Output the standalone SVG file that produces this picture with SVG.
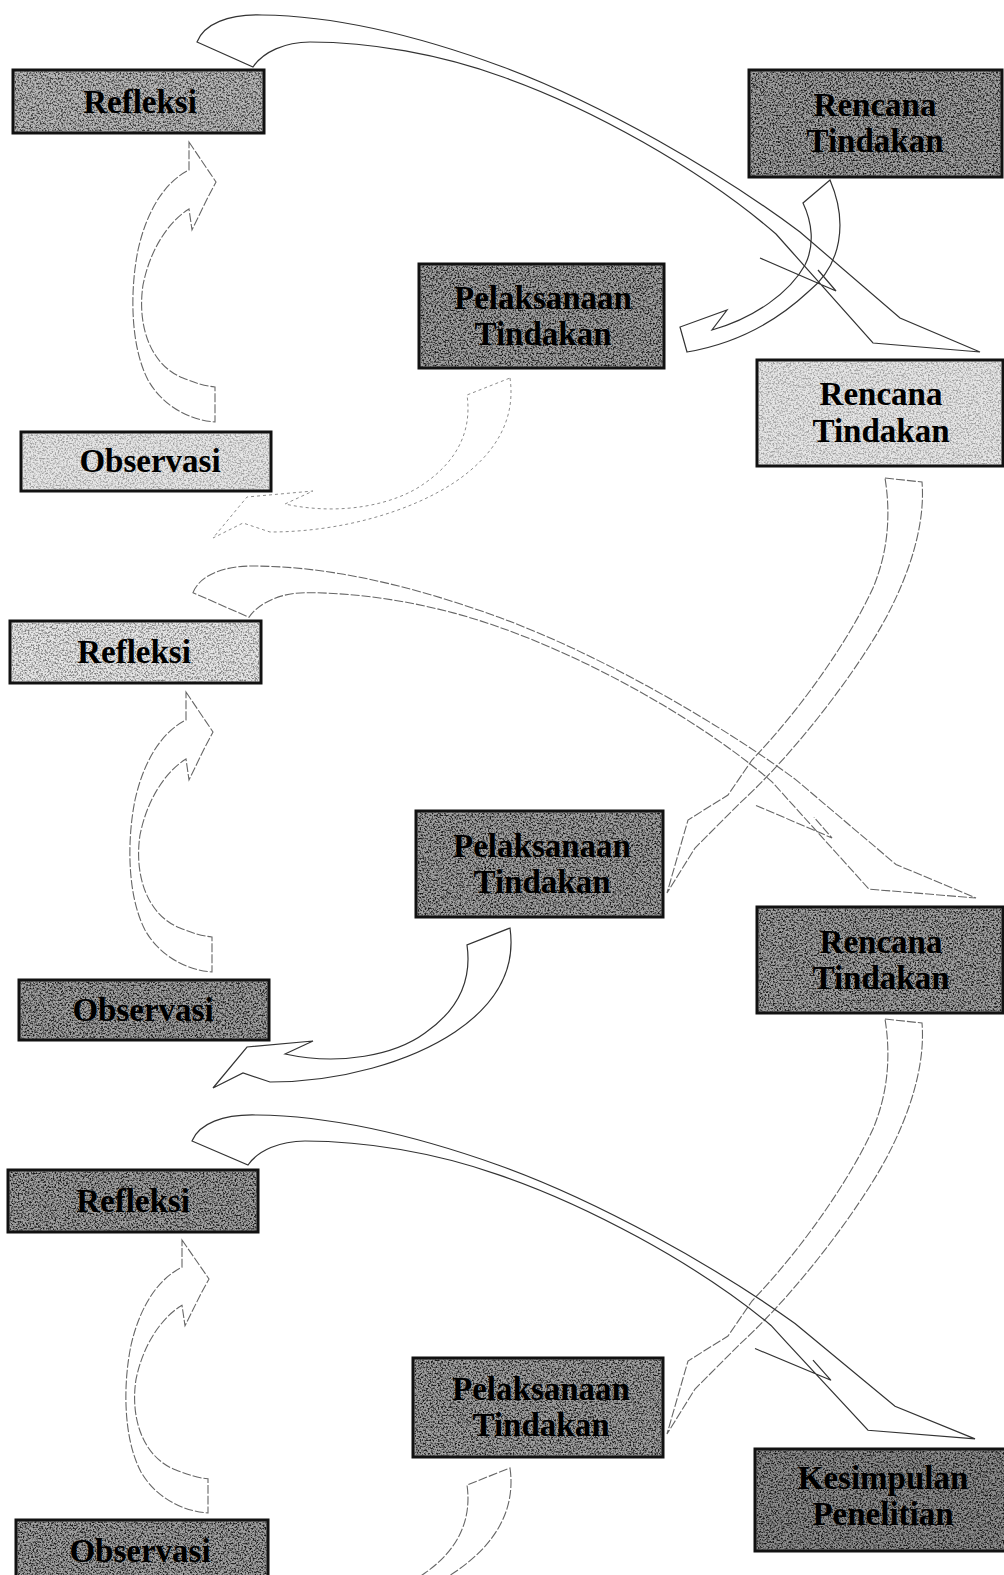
<svg xmlns="http://www.w3.org/2000/svg" width="1004" height="1575" viewBox="0 0 1004 1575">
<defs>
<filter id="speck" x="0" y="0" width="1" height="1">
<feTurbulence type="fractalNoise" baseFrequency="0.6" numOctaves="3" seed="7" result="t"/>
<feColorMatrix in="t" type="matrix" values="0 0 0 0 0  0 0 0 0 0  0 0 0 0 0  -3.2 0 0 0 1.85" result="m"/>
<feComposite in="m" in2="SourceGraphic" operator="in"/>
</filter>
<path id="arrA" d="M197,42 C204,24 228,14 262,15 C345,16 430,40 503,67 C600,103 720,172 800,232 L900,318 L980,352 L873,343 L792,252 L776,234 C700,168 588,107 503,77 C440,54 370,42 310,42 C285,42 263,52 253,67 Z M760,258 L836,291 L818,270"/>
<path id="arrD" d="M189,142 L216,182 L208,197 L192,230 L189,209 C168,222 150,250 143,285 C137,325 150,365 183,378 C195,383 205,386 215,387 L215,422 C188,420 162,405 148,380 C130,345 130,290 138,250 C147,210 165,182 189,170 Z"/>
<path id="arrE" d="M510,378 C516,420 495,455 455,482 C410,512 340,532 270,532 L243,523 L213,538 L247,497 L313,491 L285,504 C340,516 395,505 425,483 C458,460 472,430 467,395 Z"/>
<path id="arrC" d="M885,478 L922,482 C926,530 905,590 870,645 C835,700 785,762 740,803 L695,848 L667,893 L688,820 L728,795 L752,760 C800,710 848,642 873,588 C888,552 891,515 885,478 Z"/>
</defs>
<style>
.bx{stroke:#111;stroke-width:3}
.dark{fill:#a0a0a0}
.mid{fill:#b8b8b8}
.light{fill:#e6e6e6}
.sp{fill:#000;filter:url(#speck)}
.spd{opacity:0.85}
.spm{opacity:0.7}
.spl{opacity:0.3}
.t{font-family:"Liberation Serif","Times New Roman",serif;font-weight:bold;font-size:33px;fill:#000;text-anchor:middle}
.s{fill:none;stroke:#333;stroke-width:1.2}
.m{fill:none;stroke:#666;stroke-width:1.1;stroke-dasharray:9 2}
.f{fill:none;stroke:#8c8c8c;stroke-width:1;stroke-dasharray:3 3}
</style>
<rect width="1004" height="1575" fill="#fff"/>

<g id="connectors">
<use href="#arrA" class="s"/>
<path class="s" d="M830,180 C848,222 842,265 808,292 C780,318 740,343 687,352 L680,327 L727,310 L712,330 C755,318 790,292 805,265 C815,245 812,222 803,203 Z"/>
<use href="#arrD" class="m"/>
<use href="#arrE" class="f"/>
<use href="#arrC" class="m"/>
<use href="#arrA" class="m" transform="matrix(1,0,0,0.985,-4,551.3)"/>
<use href="#arrD" class="m" transform="translate(-3,550)"/>
<use href="#arrE" class="s" transform="translate(0,550)"/>
<use href="#arrC" class="m" transform="translate(0,541)"/>
<use href="#arrA" class="s" transform="matrix(1,0,0,0.961,-5,1100.6)"/>
<use href="#arrD" class="m" transform="matrix(1,0,0,0.975,-7,1101.5)"/>
<use href="#arrE" class="m" transform="translate(0,1090)"/>
</g>

<g id="refleksi1">
<rect class="bx mid" x="13" y="70" width="251" height="63"/>
<rect class="sp spm" x="14.5" y="71.5" width="248" height="60"/>
<text class="t" x="140" y="113">Refleksi</text>
</g>
<g id="rencana1">
<rect class="bx dark" x="749" y="70" width="253" height="107"/>
<rect class="sp spd" x="750.5" y="71.5" width="250" height="104"/>
<text class="t" x="875" y="116">Rencana</text>
<text class="t" x="875" y="152">Tindakan</text>
</g>
<g id="pelaksanaan1">
<rect class="bx dark" x="419" y="264" width="245" height="104"/>
<rect class="sp spd" x="420.5" y="265.5" width="242" height="101"/>
<text class="t" x="543" y="309">Pelaksanaan</text>
<text class="t" x="543" y="345">Tindakan</text>
</g>
<g id="rencana2">
<rect class="bx light" x="757" y="360" width="246" height="106"/>
<rect class="sp spl" x="758.5" y="361.5" width="243" height="103"/>
<text class="t" x="881" y="405">Rencana</text>
<text class="t" x="881" y="442">Tindakan</text>
</g>
<g id="observasi1">
<rect class="bx light" x="21" y="432" width="250" height="59"/>
<rect class="sp spl" x="22.5" y="433.5" width="247" height="56"/>
<text class="t" x="150" y="472">Observasi</text>
</g>

<g id="refleksi2">
<rect class="bx light" x="10" y="621" width="251" height="62"/>
<rect class="sp spm" x="11.5" y="622.5" width="248" height="59" style="opacity:0.45"/>
<text class="t" x="134" y="663">Refleksi</text>
</g>
<g id="pelaksanaan2">
<rect class="bx dark" x="416" y="811" width="247" height="106"/>
<rect class="sp spd" x="417.5" y="812.5" width="244" height="103"/>
<text class="t" x="542" y="857">Pelaksanaan</text>
<text class="t" x="542" y="893">Tindakan</text>
</g>
<g id="rencana3">
<rect class="bx dark" x="757" y="907" width="246" height="106"/>
<rect class="sp spd" x="758.5" y="908.5" width="243" height="103"/>
<text class="t" x="881" y="953">Rencana</text>
<text class="t" x="881" y="989">Tindakan</text>
</g>
<g id="observasi2">
<rect class="bx dark" x="19" y="980" width="250" height="60"/>
<rect class="sp spd" x="20.5" y="981.5" width="247" height="57"/>
<text class="t" x="143" y="1021">Observasi</text>
</g>

<g id="refleksi3">
<rect class="bx dark" x="8" y="1170" width="250" height="62"/>
<rect class="sp spd" x="9.5" y="1171.5" width="247" height="59"/>
<text class="t" x="133" y="1212">Refleksi</text>
</g>
<g id="pelaksanaan3">
<rect class="bx dark" x="413" y="1358" width="250" height="99"/>
<rect class="sp spd" x="414.5" y="1359.5" width="247" height="96"/>
<text class="t" x="541" y="1400">Pelaksanaan</text>
<text class="t" x="541" y="1436">Tindakan</text>
</g>
<g id="kesimpulan">
<rect class="bx dark" x="755" y="1449" width="252" height="102" style="fill:#8c8c8c"/>
<rect class="sp spd" x="756.5" y="1450.5" width="249" height="99"/>
<text class="t" x="883" y="1489">Kesimpulan</text>
<text class="t" x="883" y="1525">Penelitian</text>
</g>
<g id="observasi3">
<rect class="bx dark" x="16" y="1520" width="252" height="62"/>
<rect class="sp spd" x="17.5" y="1521.5" width="249" height="59"/>
<text class="t" x="140" y="1562">Observasi</text>
</g>
</svg>
